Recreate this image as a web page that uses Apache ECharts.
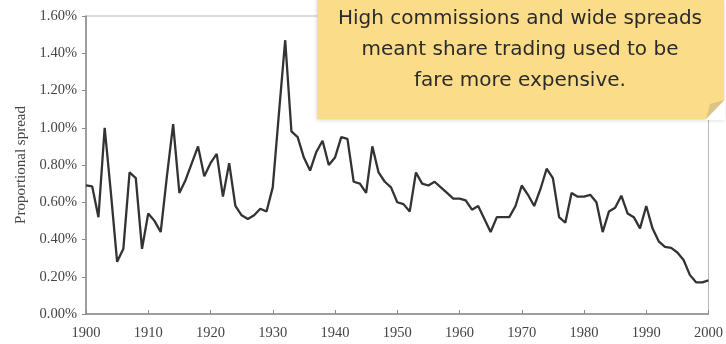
<html>
<head>
    <meta http-equiv="Content-Type" content="text/html; charset=utf-8" />
    <script src="https://cdn.jsdelivr.net/npm/echarts@6/dist/echarts.min.js"></script>
    <style>
        body { margin: 0; background: #fff; }
        #main { width: 726px; height: 344px; }
    </style>
</head>
<body>
    <div id="main"></div>
    <script type="text/javascript">

        // years on the x axis
        var firstYear = 1900;
        var lastYear = 2000;
        var xTicks = [1900, 1910, 1920, 1930, 1940, 1950, 1960, 1970, 1980, 1990, 2000];
        var yTicks = [0, 0.2, 0.4, 0.6, 0.8, 1.0, 1.2, 1.4, 1.6];

        // proportional spread (%) per year, 1900..2000
        var spread = [
            0.69, 0.685, 0.52, 1.00, 0.65, 0.28, 0.35, 0.76, 0.73, 0.35,
            0.54, 0.50, 0.44, 0.74, 1.02, 0.65, 0.72, 0.81, 0.90, 0.74,
            0.81, 0.86, 0.63, 0.81, 0.58, 0.53, 0.51, 0.53, 0.565, 0.55,
            0.68, 1.08, 1.47, 0.98, 0.95, 0.84, 0.77, 0.87, 0.93, 0.80,
            0.84, 0.95, 0.94, 0.71, 0.70, 0.65, 0.90, 0.76, 0.71, 0.68,
            0.60, 0.59, 0.55, 0.76, 0.70, 0.69, 0.71, 0.68, 0.65, 0.62,
            0.62, 0.61, 0.56, 0.58, 0.51, 0.44, 0.52, 0.52, 0.52, 0.58,
            0.69, 0.64, 0.58, 0.67, 0.78, 0.73, 0.52, 0.49, 0.65, 0.63,
            0.63, 0.64, 0.60, 0.44, 0.55, 0.57, 0.635, 0.54, 0.52, 0.46,
            0.58, 0.46, 0.39, 0.36, 0.355, 0.33, 0.29, 0.21, 0.17, 0.17,
            0.18
        ];

        var note = ['High commissions and wide spreads', 'meant share trading used to be', 'fare more expensive.'];

        var points = [];
        for (var i = 0; i < spread.length; i++) {
            points.push([firstYear + i, spread[i]]);
        }

        var serif = '"Liberation Serif", "DejaVu Serif", serif';

        var option = {
            animation: false,
            grid: {
                left: 86,
                right: 16,
                top: 16,
                bottom: 30,
                show: true,
                borderColor: '#b8b8b8',
                borderWidth: 1
            },
            xAxis: {
                type: 'value',
                min: firstYear,
                max: lastYear,
                interval: 10,
                axisLine: { lineStyle: { color: '#8a8a8a', width: 1.5 } },
                axisTick: { show: true, inside: true, length: 4, lineStyle: { color: '#8a8a8a' } },
                splitLine: { show: false },
                axisLabel: {
                    fontFamily: serif,
                    fontSize: 14.5,
                    color: '#444',
                    margin: 12,
                    formatter: function (v) { return xTicks.indexOf(v) >= 0 ? String(v) : ''; }
                }
            },
            yAxis: {
                type: 'value',
                min: 0,
                max: 1.6,
                interval: 0.2,
                name: 'Proportional spread',
                nameLocation: 'middle',
                nameGap: 54,
                nameTextStyle: { fontFamily: serif, fontSize: 15, color: '#444' },
                axisLine: { show: true, lineStyle: { color: '#8a8a8a', width: 1.5 } },
                axisTick: { show: true, length: 4, lineStyle: { color: '#8a8a8a' } },
                splitLine: { show: false },
                axisLabel: {
                    fontFamily: serif,
                    fontSize: 14.5,
                    color: '#444',
                    margin: 9,
                    formatter: function (v) { return yTicks.indexOf(Math.round(v * 10) / 10) >= 0 ? v.toFixed(2) + '%' : ''; }
                }
            },
            series: [{
                type: 'line',
                data: points,
                symbol: 'none',
                lineStyle: { color: '#333333', width: 2.3 },
                z: 3
            }],
            graphic: [
                {
                    type: 'rect',
                    shape: { x: 317, y: -2, width: 407, height: 121 },
                    style: {
                        fill: '#fbdc88',
                        shadowBlur: 4,
                        shadowColor: 'rgba(0,0,0,0.18)',
                        shadowOffsetY: 1
                    },
                    z: 10
                },
                {
                    type: 'polygon',
                    shape: { points: [[725, 100], [725, 120], [705, 120]] },
                    style: { fill: '#ffffff' },
                    z: 11
                },
                {
                    type: 'polygon',
                    shape: { points: [[724, 100], [706, 119], [710, 104]] },
                    style: { fill: '#dcc38a' },
                    z: 12
                },
                {
                    type: 'text',
                    x: 520,
                    y: 3,
                    style: {
                        text: note.join('\n'),
                        align: 'center',
                        verticalAlign: 'top',
                        lineHeight: 31,
                        font: '20px "DejaVu Sans", sans-serif',
                        fill: '#2b2b2b'
                    },
                    z: 13
                }
            ]
        };

        var myChart = echarts.init(document.getElementById('main'));
        myChart.setOption(option);

    </script>
</body>
</html>
